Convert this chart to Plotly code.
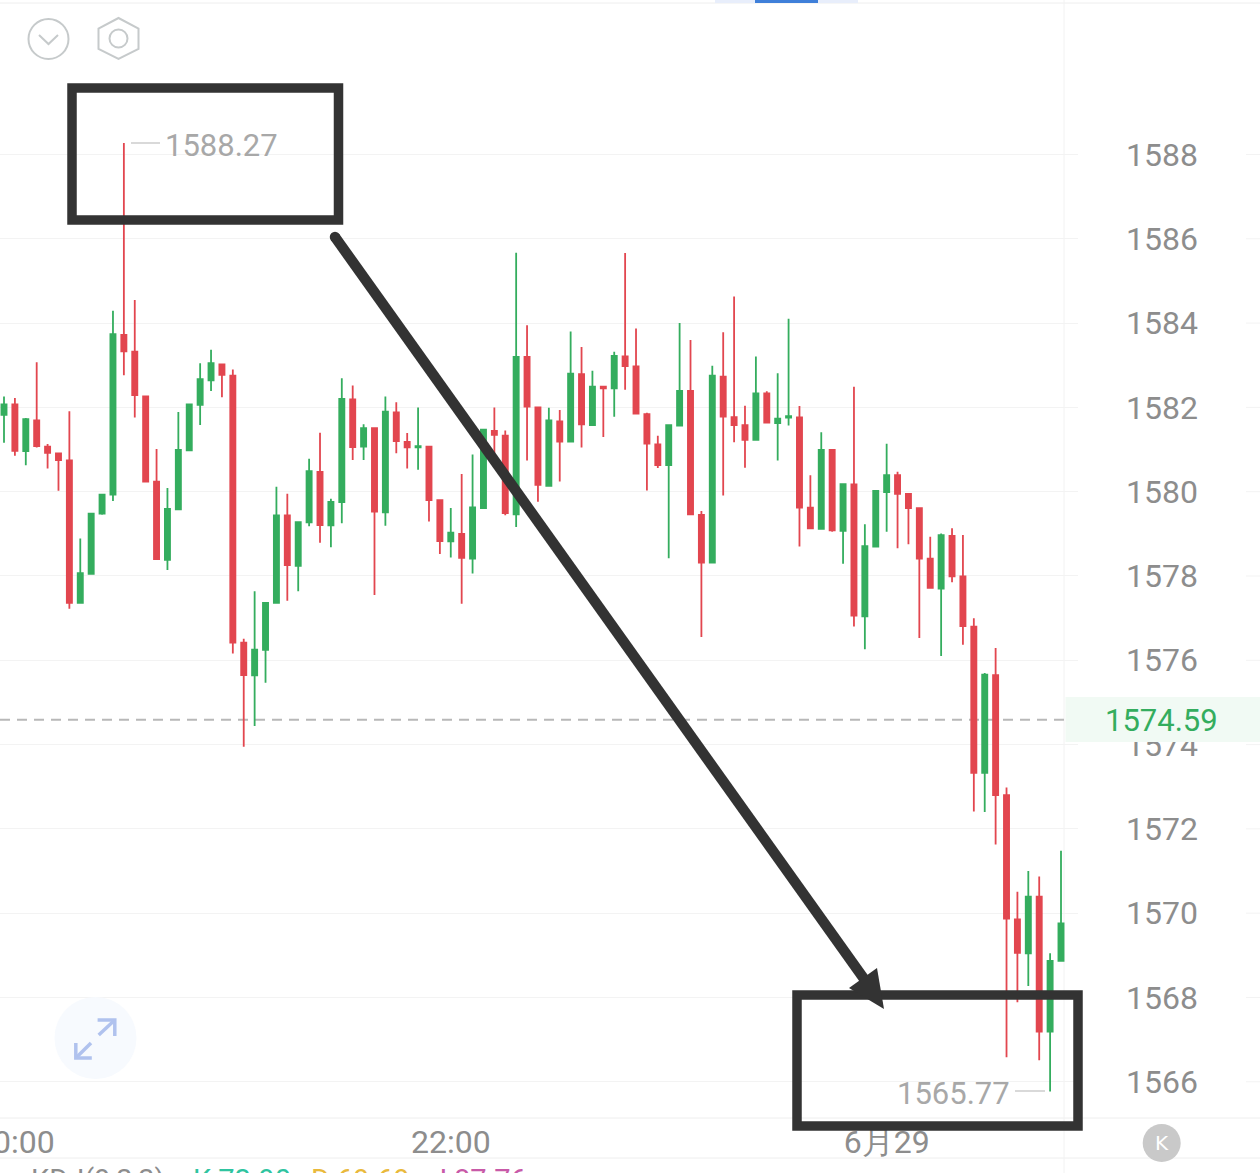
import plotly.graph_objects as go

W, H = 1260, 1173
PLOT_R, PLOT_B = 1078, 1118

# Candles: open, high, low, close. Green closes above its open, red below.
open_ = [1581.82,1582.07,1580.96,1581.69,1581.07,1580.91,1580.74,1577.36,1578.05,1579.48,
         1579.93,1583.72,1583.32,1582.26,1580.24,1578.38,1579.58,1580.98,1582.06,1582.64,
         1583.02,1582.75,1576.42,1575.64,1576.25,1577.36,1579.44,1578.24,1579.27,1580.47,
         1579.20,1579.75,1582.19,1581.07,1581.51,1579.51,1581.88,1581.18,1581.05,1581.07,
         1579.80,1578.82,1579.00,1578.41,1579.61,1581.44,1581.33,1579.46,1583.20,1582.00,
         1580.14,1581.67,1581.19,1582.79,1581.58,1582.49,1582.45,1583.21,1582.97,1581.84,
         1581.12,1580.63,1581.57,1582.39,1579.45,1578.32,1582.73,1581.77,1581.58,1581.23,
         1582.33,1581.63,1581.76,1581.76,1579.62,1579.12,1580.99,1579.07,1580.17,1577.04,
         1578.70,1579.99,1580.39,1579.95,1579.61,1578.41,1577.70,1578.95,1577.99,1576.80,
         1573.33,1575.65,1572.80,1569.85,1569.05,1570.39,1567.19,1568.87]
high = [1582.26,1582.22,1581.75,1583.07,1581.13,1580.91,1581.91,1578.89,1579.48,1579.93,
        1584.29,1588.27,1584.55,1582.26,1581.01,1580.09,1581.89,1582.07,1583.05,1583.37,
        1583.02,1582.90,1576.51,1577.64,1577.36,1580.12,1579.95,1579.29,1580.78,1581.40,
        1579.83,1582.69,1582.52,1581.60,1581.51,1582.26,1582.12,1581.39,1582.00,1581.07,
        1579.80,1579.61,1580.42,1580.88,1581.47,1582.00,1581.45,1585.67,1583.95,1582.00,
        1581.99,1581.94,1583.80,1583.43,1582.87,1582.49,1583.32,1585.66,1583.87,1581.87,
        1581.33,1581.58,1584.00,1583.60,1579.54,1582.99,1583.78,1584.63,1582.04,1583.21,
        1582.38,1582.81,1584.10,1582.03,1580.39,1581.41,1580.99,1580.18,1582.49,1579.23,
        1580.02,1581.14,1580.47,1579.95,1579.61,1578.93,1579.01,1579.13,1578.97,1577.00,
        1575.70,1576.29,1572.98,1570.51,1571.00,1570.87,1569.05,1571.48]
low = [1581.16,1580.85,1580.63,1581.05,1580.55,1580.02,1577.22,1577.36,1578.05,1579.45,
       1579.78,1582.76,1581.76,1580.24,1578.40,1578.14,1579.58,1580.98,1581.58,1582.39,
       1582.24,1576.16,1573.95,1574.44,1575.47,1577.36,1577.41,1577.64,1579.18,1578.79,
       1578.68,1579.25,1580.75,1580.75,1577.55,1579.19,1580.91,1580.55,1580.52,1579.29,
       1578.52,1578.44,1577.34,1578.06,1579.61,1580.91,1579.44,1579.16,1580.74,1579.76,
       1580.14,1580.24,1581.19,1581.05,1581.58,1581.30,1581.78,1582.42,1581.85,1580.03,
       1580.56,1578.42,1581.57,1579.46,1576.55,1578.32,1579.91,1581.17,1580.57,1581.23,
       1581.64,1580.74,1581.57,1578.70,1579.13,1579.12,1579.05,1578.29,1576.80,1576.26,
       1578.70,1579.05,1578.66,1578.75,1576.53,1577.72,1576.10,1577.85,1576.37,1572.41,
       1572.40,1571.63,1566.58,1567.89,1568.27,1566.51,1565.77,1568.87]
close = [1582.07,1580.97,1581.72,1581.08,1580.92,1580.75,1577.36,1578.07,1579.48,1579.93,
         1583.74,1583.33,1582.29,1580.24,1578.40,1579.59,1580.99,1582.07,1582.67,1583.05,
         1582.77,1576.42,1575.65,1576.25,1577.36,1579.44,1578.26,1579.28,1580.49,1579.21,
         1579.76,1582.20,1581.06,1581.51,1579.53,1581.90,1581.20,1581.05,1581.08,1579.80,
         1578.83,1579.03,1578.43,1579.63,1581.47,1581.35,1579.49,1583.20,1582.02,1580.16,
         1581.69,1581.19,1582.80,1581.60,1582.49,1582.45,1583.22,1582.98,1581.85,1581.14,
         1580.63,1581.58,1582.39,1579.46,1578.32,1582.75,1581.78,1581.58,1581.23,1582.33,
         1581.64,1581.73,1581.79,1579.62,1579.13,1580.99,1579.08,1580.18,1577.06,1578.71,
         1580.02,1580.39,1579.95,1579.61,1578.41,1577.72,1578.97,1577.99,1576.81,1573.33,
         1575.66,1572.80,1569.87,1569.06,1570.39,1567.19,1568.87,1569.76]

y_ticks = [1566,1568,1570,1572,1574,1576,1578,1580,1582,1584,1586,1588]
x_tick_pos = [1, 41, 81]
x_tick_text = ["20:00", "22:00", "6月29"]
last_price = 1574.59
kdj_labels = ["KDJ(9,3,3)", "K:72.90", "D:69.69", "J:87.76"]

GREEN, RED = "#34ad5e", "#e2464f"
GRID, TXT, DARK = "#f3f3f3", "#8d8d8d", "#333333"
ICON, FONT = "#c6cacb", "Roboto"

def px(x): return x / PLOT_R
def py(y): return 1 - y / PLOT_B

fig = go.Figure(go.Candlestick(
    x=list(range(len(open_))), open=open_, high=high, low=low, close=close,
    increasing=dict(line=dict(color=GREEN, width=1.8), fillcolor=GREEN),
    decreasing=dict(line=dict(color=RED, width=1.8), fillcolor=RED),
    whiskerwidth=0, hoverinfo="skip", showlegend=False))

shapes, annos = [], []
def line(x0, y0, x1, y1, color, width=1, layer="below", dash=None):
    shapes.append(dict(type="line", xref="paper", yref="paper", x0=px(x0), x1=px(x1),
                       y0=py(y0), y1=py(y1), layer=layer,
                       line=dict(color=color, width=width, dash=dash)))
def poly(pts, color=None, fill=None, width=2, close_it=False):
    d = "M" + " L".join(f"{px(a):.5f},{py(b):.5f}" for a, b in pts) + (" Z" if close_it else "")
    shapes.append(dict(type="path", xref="paper", yref="paper", path=d, layer="above",
                       fillcolor=fill or "rgba(0,0,0,0)",
                       line=dict(color=color or "rgba(0,0,0,0)", width=width)))
def circle(cx, cy, r, color=None, fill=None, width=2):
    shapes.append(dict(type="circle", xref="paper", yref="paper", x0=px(cx-r), x1=px(cx+r),
                       y0=py(cy+r), y1=py(cy-r), layer="above",
                       fillcolor=fill or "rgba(0,0,0,0)",
                       line=dict(color=color or "rgba(0,0,0,0)", width=width)))
def rect(x0, y0, x1, y1, color=None, fill=None, width=0, layer="above"):
    shapes.append(dict(type="rect", xref="paper", yref="paper", x0=px(x0), x1=px(x1),
                       y0=py(y1), y1=py(y0), layer=layer,
                       fillcolor=fill or "rgba(0,0,0,0)",
                       line=dict(color=color or "rgba(0,0,0,0)", width=width)))
def text(x, y, s, color, size=31, anchor="center", vanchor="middle", family=FONT):
    annos.append(dict(xref="paper", yref="paper", x=px(x), y=py(y), text=s, showarrow=False,
                      xanchor=anchor, yanchor=vanchor, borderpad=0,
                      font=dict(family=family, size=size, color=color)))

# frame lines of the app
line(0, 3, W, 3, "#eeeeee", 1)
line(0, 1118, W, 1118, "#eeeeee", 1)
line(0, 1158, W, 1158, "#eeeeee", 1)
line(1064, 0, 1064, H, "#f2f2f2", 1)
rect(715, 0, 858, 3, fill="#e8eefb")
rect(755, 0, 818, 3, fill="#3f7fd9")

# short grid stubs at the right edge
for t in y_ticks:
    shapes.append(dict(type="line", xref="paper", yref="y", x0=px(1246), x1=px(W), y0=t, y1=t,
                       layer="below", line=dict(color=GRID, width=1)))

# last-price dashed line and its label box
shapes.append(dict(type="line", xref="paper", yref="y", x0=0, x1=px(1064), y0=last_price, y1=last_price,
                   layer="below", line=dict(color="#b8b8b8", width=2, dash="10px,7px")))
rect(1065.5, 697, W, 742, fill="#f1faf4")
text(1161, 720.5, f"{last_price:.2f}", GREEN)

# top-left icons
circle(48.5, 39, 20, ICON)
poly([(39, 35), (48.5, 44), (58, 35)], ICON)
poly([(118.5, 18), (138.5, 28.5), (138.5, 49), (118.5, 59), (98.5, 49), (98.5, 28.5)], ICON, close_it=True)
circle(118.5, 38.5, 9, ICON)

# expand icon
circle(95.5, 1038, 41, fill="#f7fafe")
for pts in ([(98.7, 1035), (114.8, 1020)], [(97.6, 1020), (114.8, 1020), (114.8, 1036)],
            [(91, 1043), (75.8, 1058)], [(75.8, 1043), (75.8, 1058), (91.8, 1058)]):
    poly(pts, "#b0c2ee", width=3.5)

# K button
circle(1161.7, 1143, 19, fill="#c9c9c9")
text(1162, 1143, "K", "#ffffff", size=20, family="DejaVu Sans")

# extreme labels
line(131, 143, 160, 143, "#cccccc", 1.5, layer="above")
text(221, 145, f"{max(high):.2f}", "#a8a8a8")
line(1015, 1091, 1045, 1091, "#cccccc", 1.5, layer="above")
text(953, 1093, f"{min(low):.2f}", "#a8a8a8")

# hand-drawn boxes and arrow
rect(72, 88, 338.5, 220, color=DARK, width=9.5)
rect(797, 995, 1078, 1126, color=DARK, width=9.5)
line(335, 237, 872, 990, DARK, 10.5, layer="above")
circle(335, 237, 5.25, fill=DARK, width=0)
poly([(884, 1009), (877, 968), (849, 988)], fill=DARK, width=0, close_it=True)

# cut-off indicator row at the bottom
for (x, s, c) in zip([30, 192, 310, 430], kdj_labels, ["#8d8d8d", "#2fc4a0", "#e9b93c", "#c85aa8"]):
    text(x, 1162, s, c, size=29, anchor="left", vanchor="top")

fig.update_layout(
    width=W, height=H, autosize=False,
    margin=dict(l=0, r=W - PLOT_R, t=0, b=H - PLOT_B, pad=0, autoexpand=False),
    paper_bgcolor="white", plot_bgcolor="white", boxgap=0.33,
    shapes=shapes, annotations=annos, showlegend=False, hovermode=False,
    font=dict(family=FONT),
    xaxis=dict(range=[-0.367, 98.56], rangeslider=dict(visible=False), tickmode="array",
               tickvals=x_tick_pos, ticktext=x_tick_text, showgrid=False, zeroline=False,
               showline=False, ticks="", ticklabelstandoff=2, ticklabeloverflow="allow",
               automargin=False, tickfont=dict(family=FONT, size=32, color=TXT)),
    yaxis=dict(range=[1565.141, 1591.665], side="right", tickmode="array", tickvals=y_ticks,
               ticktext=[str(t) for t in y_ticks], gridcolor=GRID, gridwidth=1, zeroline=False,
               showline=False, ticks="", ticklabelstandoff=47, ticklabeloverflow="allow",
               automargin=False, tickfont=dict(family=FONT, size=32, color=TXT)),
)
fig.write_html("out.html", config=dict(displayModeBar=False),
               post_script="document.body.style.margin='0';document.body.style.overflow='hidden';")
